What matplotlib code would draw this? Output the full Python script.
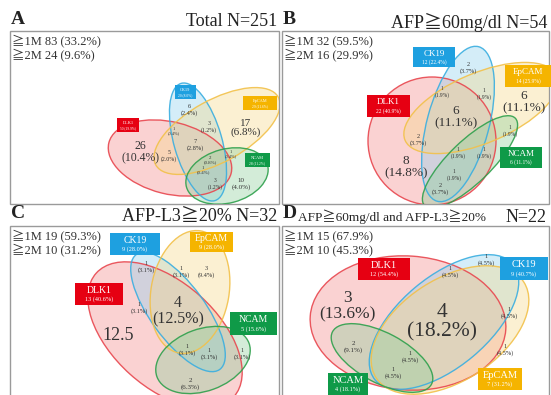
import matplotlib
matplotlib.use('Agg')
import matplotlib.pyplot as plt
from matplotlib.patches import Ellipse, Rectangle
from matplotlib.colors import to_rgba

# ---------------- data ----------------
markers = ['DLK1', 'CK19', 'EpCAM', 'NCAM']

A_title = 'Total N=251'
A_summary = ['≧1M 83 (33.2%)', '≧2M 24 (9.6%)']
A_marker_n = ['50 (19.9%)', '20 (8.0%)', '29 (11.6%)', '28 (11.2%)']
A_counts = [26, 5, 7, 6, 3, 17, 1, 2, 1, 3, 10, 1]
A_pcts = ['10.4', '2.0', '2.8', '2.4', '1.2', '6.8', '0.4', '0.8', '0.4', '1.2', '4.0', '0.4']

B_title = 'AFP≧60mg/dl N=54'
B_summary = ['≧1M 32 (59.5%)', '≧2M 16 (29.9%)']
B_marker_n = ['22 (40.9%)', '12 (22.4%)', '14 (25.9%)', '6 (11.1%)']
B_counts = [2, 1, 1, 6, 6, 2, 8, 1, 1, 1, 1, 2]
B_pcts = ['3.7', '1.9', '1.9', '11.1', '11.1', '3.7', '14.8', '1.9', '1.9', '1.9', '1.9', '3.7']

C_title = 'AFP-L3≧20% N=32'
C_summary = ['≧1M 19 (59.3%)', '≧2M 10 (31.2%)']
C_marker_n = ['13 (40.6%)', '9 (28.0%)', '9 (28.0%)', '5 (15.6%)']
C_counts = [1, 1, 3, 1, 4, '12.5', 1, 1, 1, 2]
C_pcts = ['3.1', '3.1', '9.4', '3.1', '12.5', None, '3.1', '3.1', '3.1', '6.3']

D_title_small = 'AFP≧60mg/dl and AFP-L3≧20%'
D_title = 'N=22'
D_summary = ['≧1M 15 (67.9%)', '≧2M 10 (45.3%)']
D_marker_n = ['12 (54.4%)', '9 (40.7%)', '7 (31.2%)', '4 (18.1%)']
D_counts = [1, 1, 3, 4, 1, 1, 2, 1, 1]
D_pcts = ['4.5', '4.5', '13.6', '18.2', '4.5', '4.5', '9.1', '4.5', '4.5']

# ---------------- styles / layout ----------------
FAM = ['Liberation Serif', 'Noto Sans CJK JP', 'DejaVu Serif']
TXT = '#333333'
edge_c = {'DLK1': '#e8474f', 'CK19': '#3aaee0', 'EpCAM': '#f2c14a', 'NCAM': '#2ea04c'}
fill_c = {'DLK1': '#f48a8a', 'CK19': '#8fd0ee', 'EpCAM': '#f6d88a', 'NCAM': '#8ccf9a'}
box_c = {'DLK1': '#e60012', 'CK19': '#1ea0e0', 'EpCAM': '#f5b400', 'NCAM': '#0f9a48'}

fig = plt.figure(figsize=(5.51, 3.95), dpi=100)
ax = fig.add_axes([0, 0, 1, 1])
ax.set_xlim(0, 551)
ax.set_ylim(395, 0)
ax.axis('off')


def panel(x0, y0, x1, y1, letter, title, summary, sub=None):
    rect = Rectangle((x0, y0), x1 - x0, y1 - y0, fc='white', ec='#9a9a9a', lw=1.0, zorder=1)
    ax.add_patch(rect)
    ax.text(x0 + 1, y0 - 12, letter, fontsize=14, fontweight='bold', family=FAM,
            ha='left', va='center', color='#222222')
    if sub is not None:
        ax.text(x0 + 16, y0 - 9, sub, fontsize=9.5, family=FAM, ha='left', va='center', color='#222222')
    ax.text(x1 - 2, y0 - 9, title, fontsize=13, family=FAM, ha='right', va='center', color='#222222')
    ax.text(x0 + 2, y0 + 10, summary[0], fontsize=9, family=FAM, ha='left', va='center', color=TXT, zorder=6)
    ax.text(x0 + 2, y0 + 24, summary[1], fontsize=9, family=FAM, ha='left', va='center', color=TXT, zorder=6)
    clip = Rectangle((x0, y0), x1 - x0, y1 - y0, transform=ax.transData, fc='none', ec='none')
    return clip


def ellipses(clip, geoms):
    for m, (cx, cy, w, h, ang) in zip(markers, geoms):
        e = Ellipse((cx, cy), w, h, angle=-ang, fc=to_rgba(fill_c[m], 0.38), ec='none', zorder=2)
        ax.add_patch(e)
        e.set_clip_path(clip)
    for m, (cx, cy, w, h, ang) in zip(markers, geoms):
        e = Ellipse((cx, cy), w, h, angle=-ang, fc='none', ec=edge_c[m], lw=1.0, alpha=0.9, zorder=3)
        ax.add_patch(e)
        e.set_clip_path(clip)


def mboxes(boxes, names_n, fs1, fs2):
    for m, (x0, y0, x1, y1), n in zip(markers, boxes, names_n):
        ax.add_patch(Rectangle((x0, y0), x1 - x0, y1 - y0, fc=box_c[m], ec='none', zorder=5))
        h = y1 - y0
        ax.text((x0 + x1) / 2, y0 + h * 0.33, m, fontsize=fs1, family=FAM, color='white',
                ha='center', va='center', zorder=6)
        ax.text((x0 + x1) / 2, y0 + h * 0.74, n, fontsize=fs2, family=FAM, color='white',
                ha='center', va='center', zorder=6)


def regions(counts, pcts, pos):
    for c, p, (x, y, fs) in zip(counts, pcts, pos):
        s = str(c) if p is None else f'{c}\n({p}%)'
        ax.text(x, y, s, fontsize=fs, family=FAM, color=TXT, ha='center', va='center',
                linespacing=1.05, zorder=4)


# ---- Panel A ----
clipA = panel(10, 31, 279, 204, 'A', A_title, A_summary)
ellipses(clipA, [(170, 158, 126, 72, -14), (198, 142, 122, 48, -74),
                 (217, 131, 140, 62, 29), (227, 176, 84, 54, 15)])
mboxes([(117, 118, 139, 132), (175, 85, 196, 99), (243, 96, 277, 110), (245, 153, 270, 167)],
       A_marker_n, 3.2, 2.6)
regions(A_counts, A_pcts,
        [(140, 152, 8.5), (169, 156, 4.2), (195, 145, 4.5), (189, 110, 4.5), (209, 127, 4.2),
         (246, 128, 8), (174, 131, 3.2), (210, 160, 3.5), (203, 170, 3.5), (215, 184, 4),
         (241, 184, 5), (231, 154, 3.2)])

# ---- Panel B ----
clipB = panel(282, 31, 549, 204, 'B', B_title, B_summary)
ellipses(clipB, [(432, 141, 128, 128, 0), (458, 124, 160, 62, 75),
                 (481, 108, 165, 70, 23), (470, 162, 126, 42, 44)])
mboxes([(367, 95, 410, 117), (413, 47, 455, 67), (505, 65, 551, 87), (500, 147, 542, 168)],
       B_marker_n, 6.5, 4)
regions(B_counts, B_pcts,
        [(468, 68, 4.5), (442, 92, 4), (484, 94, 4), (456, 117, 9.5), (524, 102, 9.5),
         (418, 140, 4.5), (406, 167, 9.5), (458, 153, 4), (484, 153, 4), (510, 131, 4),
         (454, 175, 4), (440, 189, 4.5)])

# ---- Panel C ----
clipC = panel(10, 226, 279, 410, 'C', C_title, C_summary)
ellipses(clipC, [(165, 335, 185, 105, -42), (178, 312, 142, 55, -54),
                 (190, 292, 124, 78, 80), (203, 360, 98, 62, 20)])
mboxes([(75, 283, 123, 305), (110, 233, 160, 255), (190, 232, 233, 252), (230, 312, 277, 335)],
       C_marker_n, 7, 4.5)
regions(C_counts, C_pcts,
        [(146, 267, 4.5), (181, 272, 4.5), (206, 272, 4.5), (139, 308, 4.5), (178, 311, 11.5),
         (118, 335, 13), (187, 350, 4.5), (209, 354, 4.5), (242, 354, 4.5), (190, 384, 5)])

# ---- Panel D ----
clipD = panel(282, 226, 549, 410, 'D', D_title, D_summary, sub=D_title_small)
ellipses(clipD, [(408, 323, 196, 134, -4), (444, 322, 180, 90, 40),
                 (450, 330, 176, 102, 33), (382, 358, 112, 50, -28)])
mboxes([(358, 258, 410, 280), (500, 257, 548, 280), (478, 368, 522, 390), (328, 373, 368, 395)],
       D_marker_n, 7.5, 4.5)
regions(D_counts, D_pcts,
        [(486, 260, 4.5), (450, 272, 4.5), (347, 306, 12.5), (442, 322, 15.5), (509, 313, 4.5),
         (505, 350, 4.5), (353, 347, 5), (410, 357, 4.5), (393, 373, 4.5)])

fig.savefig('out.png', dpi=100)
